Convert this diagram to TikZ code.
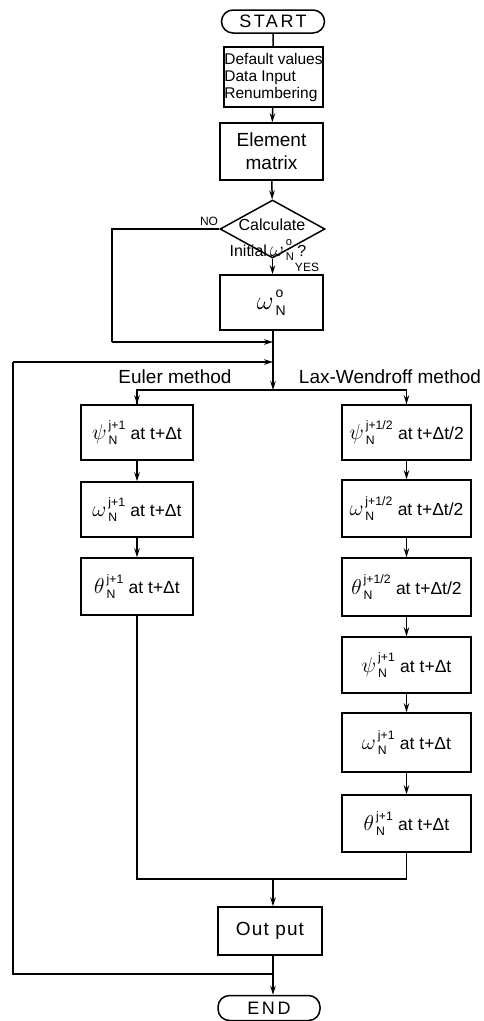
\documentclass[tikz,border=0pt]{standalone}
\usepackage{amsmath}
\usepackage{graphicx}
\usepackage{fontspec}
\setmainfont{Liberation Sans}
\usetikzlibrary{arrows.meta,shapes.geometric}
\newcommand{\gsym}[3]{\scalebox{1.25}{$#1$}\kern2pt${\vphantom{\hbox{\scalebox{1.25}{$\psi$}}}}^{\text{#2}}_{\text{#3}}$}
\begin{document}
\begin{tikzpicture}[x=1pt,y=-1pt,
  every path/.style={line width=1.5pt},
  arr/.style={-{Stealth[length=9pt,width=5.5pt]}},
  box/.style={draw,line width=1.5pt,minimum width=#1,inner sep=0pt,align=center,font=\fontsize{17.5}{22}\selectfont},
  box/.default=103,
  term/.style={draw,line width=1.5pt,rounded corners=11.5pt,minimum height=23,inner sep=0pt,font=\fontsize{18}{20}\selectfont\addfontfeatures{LetterSpace=14}},
  lbl/.style={inner sep=0pt,font=\fontsize{19}{22}\selectfont},
  dlbl/.style={inner sep=0pt,font=\fontsize{16}{19}\selectfont},
  small/.style={inner sep=0pt,font=\fontsize{12}{14}\selectfont}]
\useasboundingbox (0,0) rectangle (483,1021);
% top part
\node[term,minimum width=103] (start) at (273,21.5) {START};
\node[box=99,minimum height=60,font=\fontsize{15.5}{17}\selectfont,align=left] (init) at (273.5,77) {Default values\\Data Input\\Renumbering};
\node[box=103,minimum height=57,font=\fontsize{19}{23}\selectfont] (elem) at (271.5,151.5) {Element\\matrix};
\node[draw,diamond,line width=1.5pt,minimum width=105,minimum height=58,inner sep=0pt] (dec) at (272.5,229) {};
\node[dlbl] (dect1) at (272,225) {Calculate};
\node[dlbl] (dect2) at (268,250) {Initial\kern3pt\gsym{\omega}{o}{N}\kern3pt?};
\node[small] (no) at (209,221) {NO};
\node[small] (yes) at (307,267) {YES};
\node[box=103,minimum height=55,font=\fontsize{20}{24}\selectfont] (om) at (271.5,302.5) {\gsym{\omega}{o}{N}};
\coordinate (j1) at (273,342);
\coordinate (j2) at (273,362);
\coordinate (sp) at (273,390);
\coordinate (nl) at (112,229);
\coordinate (nb) at (112,342);
\node[lbl] (eul) at (175,377) {Euler method};
\node[lbl] (lax) at (390,377) {Lax-Wendroff method};
% left column
\node[box=112,minimum height=55] (L1) at (137,432.5) {\gsym{\psi}{j+1}{N} at t+Δt};
\node[box=112,minimum height=55] (L2) at (137,509.5) {\gsym{\omega}{j+1}{N} at t+Δt};
\node[box=112,minimum height=57] (L3) at (137,586.5) {\gsym{\theta}{j+1}{N} at t+Δt};
% right column
\node[box=129,minimum height=55] (R1) at (406.5,432.5) {\gsym{\psi}{j+1/2}{N} at t+Δt/2};
\node[box=129,minimum height=57] (R2) at (406.5,508.5) {\gsym{\omega}{j+1/2}{N} at t+Δt/2};
\node[box=129,minimum height=58] (R3) at (406.5,587) {\gsym{\theta}{j+1/2}{N} at t+Δt/2};
\node[box=129,minimum height=56] (R4) at (406.5,665) {\gsym{\psi}{j+1}{N} at t+Δt};
\node[box=129,minimum height=59] (R5) at (406.5,742.5) {\gsym{\omega}{j+1}{N} at t+Δt};
\node[box=129,minimum height=57] (R6) at (406.5,823.5) {\gsym{\theta}{j+1}{N} at t+Δt};
\coordinate (ml) at (137,879);
\coordinate (mr) at (406.5,879);
\coordinate (mc) at (273,879);
\node[box=104,minimum height=48,font=\fontsize{19}{22}\selectfont\addfontfeatures{LetterSpace=6}] (out) at (270,931) {Out put};
\coordinate (lp) at (273,974);
\coordinate (lpl) at (13,974);
\coordinate (lpt) at (13,362);
\node[term,minimum width=102,minimum height=25] (end) at (269,1008) {END};
% connectors
\draw (start) -- (init);
\draw[arr] (init) -- (elem);
\draw[arr] (elem) -- (dec);
\draw[arr] (dec.south) -- (om.north -| dec.south);
\draw (dec.west) -- (nl) -- (nb);
\draw[arr] (nb) -- (j1);
\draw (om.south -| j1) -- (j1);
\draw[arr] (j1) -- (sp);
\draw (L1.north) |- (sp) -| (R1.north);
\draw[arr] (L1.north |- sp) -- (L1.north);
\draw[arr] (R1.north |- sp) -- (R1.north);
\draw[arr] (L1) -- (L2);
\draw[arr] (L2) -- (L3);
\draw[arr] (R1) -- (R2);
\draw[arr] (R2) -- (R3);
\draw[arr] (R3) -- (R4);
\draw[arr] (R4) -- (R5);
\draw[arr] (R5) -- (R6);
\draw (L3) -- (ml) -- (mr) -- (R6);
\draw[arr] (mc) -- (out.north -| mc);
\draw[arr] (out.south -| lp) -- (end.north -| lp);
\draw (lp) -- (lpl) -- (lpt);
\draw[arr] (lpt) -- (j2);
\end{tikzpicture}
\end{document}
